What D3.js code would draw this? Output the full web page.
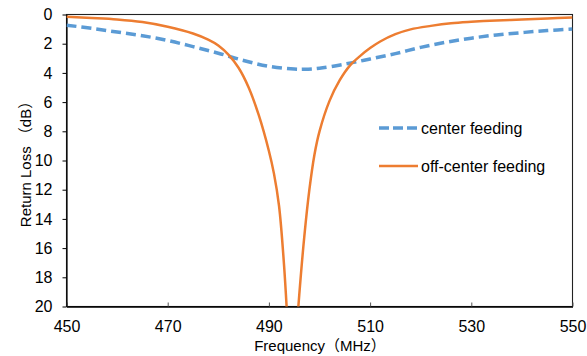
<!DOCTYPE html>
<html><head><meta charset="utf-8">
<script src="https://cdn.jsdelivr.net/npm/d3@7"></script>
<style>body{margin:0;background:#fff}svg{display:block}text{font-family:"Liberation Sans","Noto Sans CJK JP",Arial,sans-serif;fill:#000}</style>
</head><body>
<script>
const xTicks = [450, 470, 490, 510, 530, 550];
const yTicks = [0, 2, 4, 6, 8, 10, 12, 14, 16, 18, 20];

const centerFreq = [450,455,460,465,470,475,480,485,490,495,497,500,505,510,515,520,525,530,535,540,545,550];
const centerRL   = [0.73,0.95,1.2,1.45,1.78,2.2,2.65,3.15,3.55,3.74,3.75,3.68,3.4,3.05,2.68,2.25,1.9,1.62,1.4,1.24,1.1,1.0];

const offFreq = [450,455,460,465,470,475,478,480,482,484,486,488,490,491,492,493,494,494.6,495.2,496,497,498,499,500,502,504,506,508,510,512,515,518,522,526,530,535,540,545,550];
const offRL   = [0.16,0.24,0.34,0.52,0.84,1.3,1.72,2.12,2.75,3.65,5.0,6.9,9.35,10.9,13.1,17.2,23,26,23,19.2,15.2,12.0,9.6,8.0,5.9,4.5,3.5,2.85,2.3,1.85,1.35,1.02,0.78,0.6,0.5,0.41,0.35,0.28,0.2];

const seriesNames = ["center feeding", "off-center feeding"];

const W = 587, H = 356;
const m = {left: 66.5, right: 14.5, top: 14.5, bottom: 49.5};
const svg = d3.select("body").append("svg").attr("width", W).attr("height", H);
const x = d3.scaleLinear().domain([450, 550]).range([m.left, W - m.right]);
const y = d3.scaleLinear().domain([0, 20]).range([m.top, H - m.bottom]);

svg.append("defs").append("clipPath").attr("id", "clip")
  .append("rect").attr("x", x(450)).attr("y", y(0)).attr("width", x(550) - x(450)).attr("height", y(20) - y(0));

// frame
svg.append("rect").attr("x", x(450)).attr("y", y(0)).attr("width", x(550) - x(450)).attr("height", y(20) - y(0))
  .attr("fill", "none").attr("stroke", "#222").attr("stroke-width", 1.1);

// x axis
const xAxis = d3.axisBottom(x).tickValues(xTicks).tickSizeInner(-4).tickSizeOuter(0).tickPadding(14);
const gx = svg.append("g").attr("transform", `translate(0,${y(20)})`).call(xAxis);
gx.select(".domain").attr("stroke", "#000").attr("stroke-width", 1.3);
gx.selectAll(".tick line").attr("stroke", "#555");
gx.selectAll("text").attr("font-size", 16).attr("fill", "#000");

// y axis
const yAxis = d3.axisLeft(y).tickValues(yTicks).tickSizeInner(4).tickSizeOuter(0).tickPadding(10);
const gy = svg.append("g").attr("transform", `translate(${x(450)},0)`).call(yAxis);
gy.select(".domain").attr("stroke", "#000").attr("stroke-width", 1.2);
gy.selectAll(".tick line").attr("stroke", "#000");
gy.selectAll("text").attr("font-size", 16).attr("fill", "#000");

// titles
svg.append("text").attr("x", 320).attr("y", 351).attr("text-anchor", "middle")
  .attr("font-size", 15).text("Frequency（MHz）");
svg.append("text").attr("transform", `translate(31,${(y(0) + y(20)) / 2}) rotate(-90)`).attr("text-anchor", "middle")
  .attr("font-size", 15).text("Return Loss （dB）");

const line = d3.line().x(d => x(d[0])).y(d => y(d[1])).curve(d3.curveCatmullRom.alpha(0.5));
const plot = svg.append("g").attr("clip-path", "url(#clip)");
plot.append("path").datum(centerFreq.map((f, i) => [f, centerRL[i]]))
  .attr("d", line).attr("fill", "none").attr("stroke", "#5B9BD5").attr("stroke-width", 3.5).attr("stroke-dasharray", "10,5");
plot.append("path").datum(offFreq.map((f, i) => [f, offRL[i]]))
  .attr("d", line).attr("fill", "none").attr("stroke", "#ED7D31").attr("stroke-width", 2.5);

// legend
const lg = svg.append("g");
lg.append("line").attr("x1", 379).attr("x2", 418).attr("y1", 128).attr("y2", 128)
  .attr("stroke", "#5B9BD5").attr("stroke-width", 3.5).attr("stroke-dasharray", "10,4");
lg.append("text").attr("x", 421).attr("y", 134).attr("font-size", 16).text(seriesNames[0]);
lg.append("line").attr("x1", 379).attr("x2", 418).attr("y1", 166).attr("y2", 166)
  .attr("stroke", "#ED7D31").attr("stroke-width", 2.5);
lg.append("text").attr("x", 421).attr("y", 172).attr("font-size", 16).text(seriesNames[1]);
</script>
</body></html>
